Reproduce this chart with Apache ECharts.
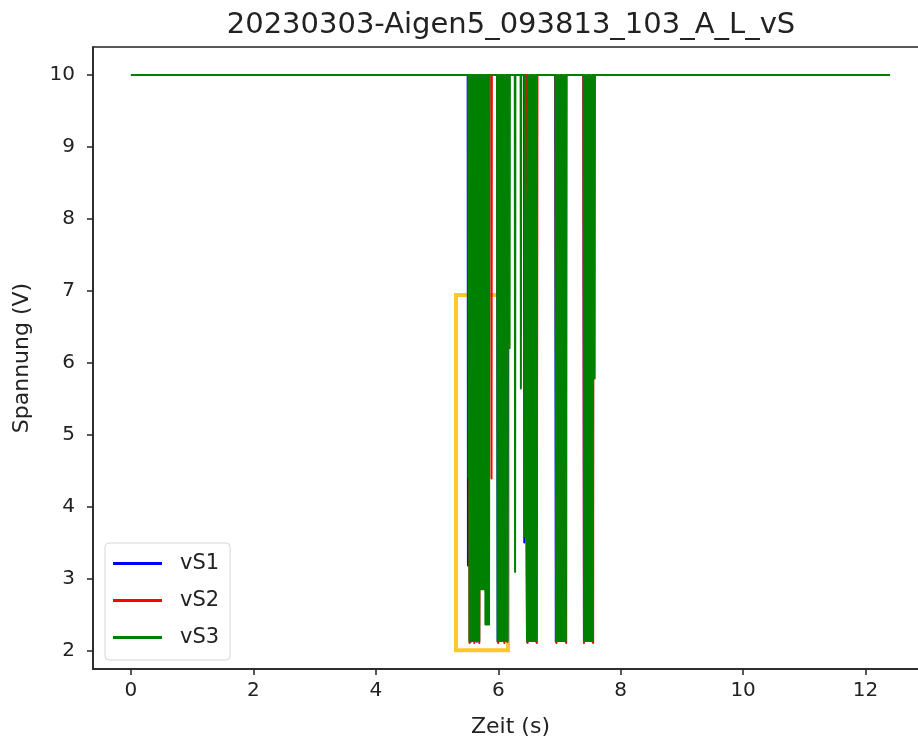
<!DOCTYPE html>
<html>
<head>
    <meta charset="utf-8">
    <title>vS</title>
    <script src="https://cdn.jsdelivr.net/npm/echarts@6/dist/echarts.min.js"></script>
    <style>
        * { margin: 0; padding: 0; }
        html, body { width: 100%; height: 100%; overflow: hidden; background: #fff; }
        /* plot frame runs past the right edge of the window, as in the source image */
        .container { width: 928px; height: 744px; }
    </style>
</head>
<body>
<div class="container"></div>

<script>
    // Zeit (s) / Spannung (V)
    const time1 = [0, 5.50, 5.505, 5.515, 5.55, 5.60, 5.65, 5.70, 5.75, 5.80, 5.84, 5.85,
        5.98, 5.99, 6.07, 6.15, 6.16, 6.42, 6.425, 6.43,
        6.46, 6.47, 6.55, 6.62, 6.63, 6.93, 6.94, 7.03, 7.10, 7.11,
        7.39, 7.40, 7.48, 7.54, 7.55, 12.4];
    const volt1 = [10, 10, 3.18, 10, 2.12, 10, 2.12, 10, 2.9, 10, 2.4, 10,
        10, 2.12, 10, 2.12, 10, 10, 3.5, 10,
        10, 2.12, 10, 2.12, 10, 10, 2.12, 10, 2.12, 10,
        10, 2.12, 10, 2.12, 10, 10];

    const time2 = [0, 5.515, 5.53, 5.57, 5.61, 5.65, 5.69, 5.73, 5.77, 5.81, 5.84, 5.85,
        5.885, 5.89, 5.895, 5.985, 6.0, 6.05, 6.1, 6.15,
        6.465, 6.48, 6.55, 6.63, 6.64, 6.935, 6.95, 7.03, 7.11, 7.115,
        7.39, 7.40, 7.48, 7.55, 7.555, 12.4];
    const volt2 = [10, 10, 2.1, 10, 2.1, 10, 2.1, 10, 2.9, 10, 2.4, 10,
        10, 4.39, 10, 10, 2.1, 10, 2.1, 10,
        10, 2.1, 10, 2.1, 10, 10, 2.1, 10, 2.1, 10,
        10, 2.1, 10, 2.1, 10, 10];

    const time3 = [0, 5.51, 5.515, 5.52,
        5.53, 5.54, 5.55, 5.56, 5.57, 5.58, 5.59, 5.60, 5.61, 5.62, 5.63, 5.64, 5.65, 5.66, 5.67, 5.68, 5.69, 5.70,
        5.71, 5.72, 5.73, 5.74, 5.75, 5.76, 5.77, 5.78,
        5.79, 5.80, 5.81, 5.82, 5.83, 5.84, 5.85, 5.855,
        5.98, 5.99, 6.00, 6.01, 6.02, 6.03, 6.04, 6.05, 6.06, 6.07, 6.08, 6.09, 6.10, 6.11, 6.12, 6.13, 6.14, 6.15, 6.16,
        6.18, 6.185, 6.19, 6.27, 6.275, 6.28, 6.365, 6.37, 6.375, 6.425, 6.43, 6.435,
        6.46, 6.47, 6.48, 6.49, 6.50, 6.51, 6.52, 6.53, 6.54, 6.55, 6.56, 6.57, 6.58, 6.59, 6.60, 6.61, 6.62, 6.625, 6.63,
        6.935, 6.945, 6.955, 6.965, 6.975, 6.985, 6.995, 7.005, 7.015, 7.025, 7.035, 7.045, 7.055, 7.065, 7.075, 7.085, 7.095, 7.105, 7.11,
        7.395, 7.405, 7.415, 7.425, 7.435, 7.445, 7.455, 7.465, 7.475, 7.485, 7.495, 7.505, 7.515, 7.525, 7.535, 7.545, 7.555,
        7.56, 7.565, 7.575, 7.58,
        12.4];
    const volt3 = [10, 10, 4.4, 10,
        2.13, 10, 2.13, 10, 2.13, 10, 2.13, 10, 2.13, 10, 2.13, 10, 2.13, 10, 2.13, 10, 2.13, 10,
        2.85, 10, 2.85, 10, 2.85, 10, 2.85, 10,
        2.36, 10, 2.36, 10, 2.36, 10, 2.36, 10,
        10, 2.13, 10, 2.13, 10, 2.13, 10, 2.13, 10, 2.13, 10, 2.13, 10, 2.13, 10, 2.13, 10, 2.13, 10,
        10, 6.2, 10, 10, 3.09, 10, 10, 5.64, 10, 10, 3.58, 10,
        10, 2.13, 10, 2.13, 10, 2.13, 10, 2.13, 10, 2.13, 10, 2.13, 10, 2.13, 10, 2.13, 10, 2.13, 10,
        10, 2.13, 10, 2.13, 10, 2.13, 10, 2.13, 10, 2.13, 10, 2.13, 10, 2.13, 10, 2.13, 10, 2.13, 10,
        10, 2.13, 10, 2.13, 10, 2.13, 10, 2.13, 10, 2.13, 10, 2.13, 10, 2.13, 10, 2.13, 10,
        5.78, 10, 5.78, 10,
        10];

    const seriesNames = ['vS1', 'vS2', 'vS3'];
    const seriesColors = ['#0000ff', '#ff0000', '#008000'];
    const xTicks = [0, 2, 4, 6, 8, 10, 12];
    const yTicks = [2, 3, 4, 5, 6, 7, 8, 9, 10];
    // highlighted box: [x0, y0], [x1, y1]
    const boxCorners = [[5.31, 6.94], [6.16, 2.0]];

    const zip = (t, v) => t.map((x, i) => [x, v[i]]);
    const allData = [zip(time1, volt1), zip(time2, volt2), zip(time3, volt3)];

    const chart = echarts.init(document.querySelector('.container'));
    const textColor = '#222';
    const font = 'DejaVu Sans';

    let series = seriesNames.map((name, i) => ({
        name: name,
        type: 'line',
        data: allData[i],
        showSymbol: false,
        symbol: 'none',
        lineStyle: { color: seriesColors[i], width: 2, join: 'round' },
        itemStyle: { color: seriesColors[i] },
        z: 2 + i
    }));
    series.push({
        name: 'box',
        type: 'line',
        data: [],
        z: 10,
        markArea: {
            silent: true,
            itemStyle: { color: 'rgba(0,0,0,0)', borderColor: '#ffc72c', borderWidth: 4 },
            data: [[{ coord: boxCorners[0] }, { coord: boxCorners[1] }]]
        }
    });

    chart.setOption({
        animation: false,
        backgroundColor: '#fff',
        title: {
            text: '20230303-Aigen5_093813_103_A_L_vS',
            left: 506,
            top: 6,
            textAlign: 'center',
            textStyle: { fontFamily: font, fontSize: 29, fontWeight: 'normal', color: textColor }
        },
        legend: {
            data: seriesNames,
            orient: 'vertical',
            left: 105,
            top: 543,
            padding: [10, 11, 12, 8],
            itemWidth: 49,
            itemHeight: 3,
            itemGap: 16,
            icon: 'rect',
            backgroundColor: 'rgba(255,255,255,0.8)',
            borderColor: '#d6d6d6',
            borderWidth: 1,
            borderRadius: 4,
            textStyle: { fontFamily: font, fontSize: 21, color: textColor, lineHeight: 20, padding: [0, 0, 0, 13] }
        },
        grid: {
            left: 93, right: 0, top: 47, bottom: 75,
            show: true, borderColor: '#222', borderWidth: 1.5
        },
        xAxis: {
            type: 'value',
            min: -0.62, max: 13.02,
            name: 'Zeit (s)',
            nameLocation: 'middle',
            nameGap: 47,
            nameTextStyle: { fontFamily: font, fontSize: 22, color: textColor },
            axisLine: { show: true, onZero: false, lineStyle: { color: '#222', width: 1.5 } },
            axisTick: { show: true, length: 6, customValues: xTicks, lineStyle: { color: '#222', width: 1.5 } },
            axisLabel: { customValues: xTicks, margin: 12, fontFamily: font, fontSize: 20, color: textColor },
            splitLine: { show: false }
        },
        yAxis: {
            type: 'value',
            min: 1.74, max: 10.39,
            name: 'Spannung (V)',
            nameLocation: 'middle',
            nameGap: 60,
            nameTextStyle: { fontFamily: font, fontSize: 22, color: textColor },
            axisLine: { show: true, onZero: false, lineStyle: { color: '#222', width: 1.5 } },
            axisTick: { show: true, length: 6, customValues: yTicks, lineStyle: { color: '#222', width: 1.5 } },
            axisLabel: { customValues: yTicks, margin: 18, fontFamily: font, fontSize: 20, color: textColor },
            splitLine: { show: false }
        },
        series: series
    });
</script>
</body>
</html>
